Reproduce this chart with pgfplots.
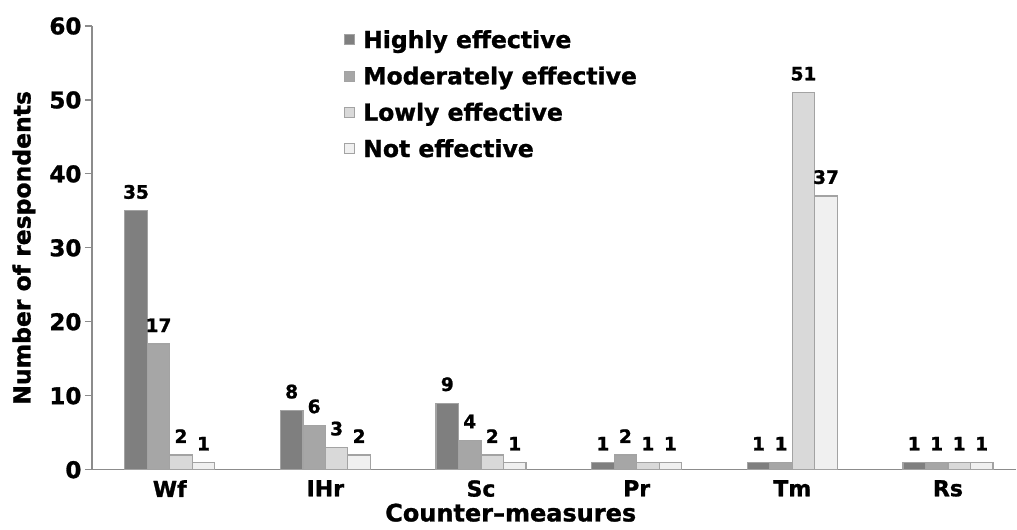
\documentclass[border=0pt]{standalone}
\usepackage{fontspec}
\setmainfont{DejaVu Sans}[BoldFeatures={FakeBold=1.2}]
\usepackage{pgfplots}
\pgfplotsset{compat=1.18}
\definecolor{cA}{HTML}{7F7F7F}
\definecolor{cB}{HTML}{A6A6A6}
\definecolor{cC}{HTML}{D9D9D9}
\definecolor{cD}{HTML}{F0F0F0}
\definecolor{edge}{HTML}{A3A3A3}
\definecolor{axgray}{HTML}{8C8C8C}
\begin{document}
\begin{tikzpicture}
\begin{axis}[
  scale only axis, width=925pt, height=444pt,
  ybar=0pt, bar width=22.5pt,
  xmin=-0.5, xmax=5.44, ymin=0, ymax=60,
  xtick={0,1,2,3,4,5}, xticklabels={Wf,IHr,Sc,Pr,Tm,Rs},
  ytick={0,10,20,30,40,50,60},
  axis lines*=left,
  axis line style={draw=axgray, line width=1.2pt},
  xtick style={draw=none},
  ytick style={draw=axgray, line width=1.2pt},
  tick align=outside, major tick length=7pt,
  /pgf/number format/assume math mode=true,
  yticklabel style={font=\fontsize{23}{27}\selectfont\bfseries},
  xticklabel style={font=\fontsize{22}{26}\selectfont\bfseries},
  ylabel={Number of respondents},
  ylabel style={font=\fontsize{23.5}{27}\selectfont\bfseries, at={(axis description cs:-0.0735,0.5)}, anchor=center},
  xlabel={Counter–measures},
  xlabel style={font=\fontsize{24}{28}\selectfont\bfseries, at={(axis description cs:0.453,0)}, yshift=-43pt, anchor=center},
  nodes near coords,
  every node near coord/.append style={font=\fontsize{18.5}{20}\selectfont\bfseries, yshift=8pt, black},
  legend style={at={(axis description cs:0.27,1.0)}, anchor=north west, draw=none, fill=none,
    font=\fontsize{23.5}{27}\selectfont\bfseries, row sep=13pt, legend cell align=left, inner sep=2pt},
  legend image code/.code={\draw[#1, line width=1pt] (0pt,-5pt) rectangle (10pt,5pt); \path[draw=none, fill=none] (0pt,0pt) (17pt,0pt);},
  clip=false,
]
\addplot[fill=cA, draw=edge, line width=1.2pt] coordinates {(0,35) (1,8) (2,9) (3,1) (4,1) (5,1)};
\addplot[fill=cB, draw=edge, line width=1.2pt] coordinates {(0,17) (1,6) (2,4) (3,2) (4,1) (5,1)};
\addplot[fill=cC, draw=edge, line width=1.2pt] coordinates {(0,2) (1,3) (2,2) (3,1) (4,51) (5,1)};
\addplot[fill=cD, draw=edge, line width=1.2pt] coordinates {(0,1) (1,2) (2,1) (3,1) (4,37) (5,1)};
\legend{Highly effective, Moderately effective, Lowly effective, Not effective}
\path (axis description cs:0,0) ++(-92pt,-60pt) coordinate (bbA);
\path (axis description cs:1,1) ++(0pt,26pt) coordinate (bbB);
\end{axis}
\useasboundingbox (bbA) rectangle (bbB);
\end{tikzpicture}
\end{document}
